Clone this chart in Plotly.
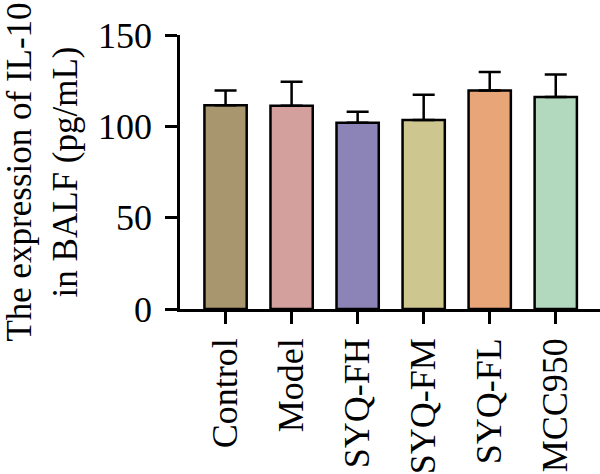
import plotly.graph_objects as go

categories = ["Control", "Model", "SYQ-FH", "SYQ-FM", "SYQ-FL", "MCC950"]
means = [111.6, 111.2, 101.9, 103.4, 119.6, 116.1]
errors = [8.0, 13.2, 6.1, 13.9, 10.2, 12.3]
colors = ["#A7966E", "#D4A09D", "#8C84B6", "#CDC68F", "#E8A578", "#B2D9BE"]
y_ticks = [0, 50, 100, 150]

FONT = "Liberation Serif"

fig = go.Figure()
fig.add_trace(go.Bar(
    x=categories,
    y=means,
    width=0.64,
    marker=dict(color=colors, line=dict(color="black", width=2.5)),
    error_y=dict(type="data", array=errors, arrayminus=[0] * len(errors),
                 symmetric=False, color="black", thickness=2.5, width=11),
))

fig.update_layout(
    width=600, height=474,
    margin=dict(l=180, r=0, t=35, b=159),
    plot_bgcolor="white", paper_bgcolor="white",
    showlegend=False,
    font=dict(family=FONT, size=36, color="black"),
)
fig.update_xaxes(
    range=[-0.69, 5.67],
    showline=True, linecolor="black", linewidth=2.5,
    ticks="outside", ticklen=12, tickwidth=2.5, tickcolor="black",
    tickangle=-90, tickfont=dict(family=FONT, size=36),
    showgrid=False, zeroline=False,
)
fig.update_yaxes(
    range=[0, 150], tickvals=y_ticks,
    showline=True, linecolor="black", linewidth=2.5,
    ticks="outside", ticklen=12, tickwidth=2.5, tickcolor="black",
    tickfont=dict(family=FONT, size=36), ticklabelstandoff=6,
    showgrid=False, zeroline=False,
    title=dict(text="The expression of IL-10<br>in BALF (pg/mL)",
               font=dict(family=FONT, size=35), standoff=14),
)

fig.write_html("out.html")
